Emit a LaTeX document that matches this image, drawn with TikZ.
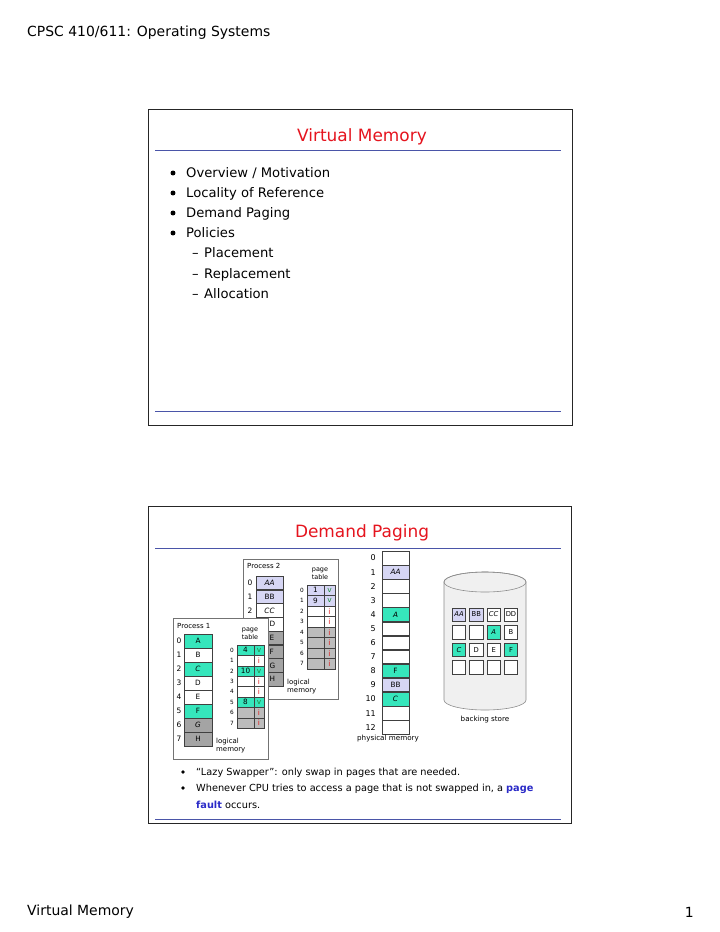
\documentclass[tikz,border=0pt]{standalone}
\usepackage{fontspec}
\setmainfont{DejaVu Sans}
\definecolor{pteal}{HTML}{36E6BC}
\definecolor{lav}{HTML}{D6D6F4}
\definecolor{gA}{HTML}{A4A4A4}
\definecolor{gB}{HTML}{BCBCBC}
\definecolor{titlered}{HTML}{E5141E}
\definecolor{lineblue}{HTML}{4A55A8}
\definecolor{pfblue}{HTML}{2B2BC8}
\definecolor{vgreen}{HTML}{1E8C3C}
\definecolor{ired}{HTML}{E02020}
\definecolor{cylfill}{HTML}{F0F0F0}
\newcommand\fsz[2]{\fontsize{#1}{#2}\selectfont}
\newcommand\pvv{\textcolor{vgreen}{v}}
\newcommand\pii{\textcolor{ired}{i}}
\tikzset{
  frameline/.style={draw=black!85, line width=0.9},
  blueline/.style={draw=lineblue, line width=1},
  procbox/.style={draw=black!55, fill=white, line width=0.6},
  cellbox/.style={draw=black!75, line width=0.5, inner sep=0, font=\fsz{7.3}{8}},
  idx/.style={inner sep=0, font=\fsz{7.5}{8}},
  ptidx/.style={inner sep=0, font=\fsz{5.8}{6}},
  lbl/.style={inner sep=0, font=\fsz{7}{8.5}, align=left},
  bigtitle/.style={inner sep=0, font=\fsz{17}{20}, text=titlered},
  itemtext/.style={inner sep=0, anchor=base west, font=\fsz{13.2}{15}},
  smalltext/.style={inner sep=0, anchor=base west, font=\fsz{9.8}{12}},
  dot/.style={fill=black, circle, inner sep=0, minimum size=5},
}
\begin{document}
\begin{tikzpicture}[x=1bp,y=-1bp]
\useasboundingbox (0,0) rectangle (720,932);
\fill[white] (0,0) rectangle (720,932);

% header / footer
\node[inner sep=0, anchor=west, font=\fsz{14}{16}] (hdr) at (27,33) {CPSC 410/611: Operating Systems};
\node[inner sep=0, anchor=west, font=\fsz{14}{16}] (ftr) at (27,912) {Virtual Memory};
\node[inner sep=0, anchor=east, font=\fsz{14}{16}] (pgno) at (694,912) {1};

% ---------------- slide 1 ----------------
\draw[frameline] (148,109) rectangle (572,425);
\draw[blueline] (155,150) -- (561,150);
\draw[blueline] (155,411) -- (561,411);
\node[bigtitle] (t1) at (362,137) {Virtual Memory};
\foreach \y/\t [count=\k] in {173/{Overview / Motivation},193/{Locality of Reference},213/{Demand Paging},233/{Policies}}{
  \node[dot] (b\k) at (173,\y) {};
  \node[itemtext] (it\k) at (186,\y+4) {\t};
}
\foreach \y/\t [count=\k] in {253/Placement,274/Replacement,294/Allocation}{
  \node[itemtext] (st\k) at (192,\y+4) {\makebox[12bp][l]{–}\t};
}

% ---------------- slide 2 ----------------
\draw[frameline] (148,506) rectangle (571,823);
\draw[blueline] (155,548) -- (561,548);
\draw[blueline] (155,819) -- (561,819);
\node[bigtitle] (t2) at (362,533) {Demand Paging};

% Process 2
\draw[procbox] (243,559) rectangle (338,699);
\node[lbl, anchor=west] (p2lab) at (247,566) {Process 2};
\foreach \i/\t/\c in {0/\itshape AA/lav,1/BB/lav,2/\itshape CC/white}{
  \node[cellbox, fill=\c, minimum width=27, minimum height=13.75] (p2m\i) at (269.5,{582.875+13.75*\i}) {\t};
  \node[idx] (p2mi\i) at (250,{582.875+13.75*\i}) {\i};
}
% rows 3-7: only the part not hidden by Process 1
\foreach \i/\t/\c in {3/D/white,4/E/gA,5/F/gA,6/G/gA,7/H/gA}{
  \node[cellbox, fill=\c, minimum width=15, minimum height=13.75] (p2m\i) at (275.5,{582.875+13.75*\i}) {\makebox[15bp][l]{\hspace{1.5bp}\t}};
}
\node[lbl, align=center, font=\fsz{6.5}{8.3}] (p2ptl) at (320,574) {page\\table};
\foreach \i/\f/\v/\c in {0/1/\pvv/lav,1/9/\pvv/lav,2//\pii/white,3//\pii/white,4//\pii/gB,5//\pii/gB,6//\pii/gB,7//\pii/gB}{
  \node[cellbox, fill=\c, minimum width=17, minimum height=10.5] (p2f\i) at (315.5,{590.25+10.5*\i}) {\f};
  \node[cellbox, fill=\c, minimum width=11, minimum height=10.5, font=\fsz{7.5}{8}] (p2v\i) at (329.5,{590.25+10.5*\i}) {\v};
  \node[ptidx] (p2fi\i) at (302,{590.25+10.5*\i}) {\i};
}
\node[lbl, anchor=north west] (p2lm) at (287,679) {logical\\memory};

% Process 1
\draw[procbox] (173,618) rectangle (268,759);
\node[lbl, anchor=west] (p1lab) at (177,626) {Process 1};
\foreach \i/\t/\c in {0/A/pteal,1/B/white,2/\itshape C/pteal,3/D/white,4/E/white,5/F/pteal,6/\itshape G/gA,7/H/gA}{
  \node[cellbox, fill=\c, minimum width=28, minimum height=14] (p1m\i) at (198,{641+14*\i}) {\t};
  \node[idx] (p1mi\i) at (179,{641+14*\i}) {\i};
}
\node[lbl, align=center, font=\fsz{6.5}{8.3}] (p1ptl) at (250,633.5) {page\\table};
\foreach \i/\f/\v/\c in {0/4/\pvv/pteal,1//\pii/white,2/10/\pvv/pteal,3//\pii/white,4//\pii/white,5/8/\pvv/pteal,6//\pii/gB,7//\pii/gB}{
  \node[cellbox, fill=\c, minimum width=17, minimum height=10.4] (p1f\i) at (245.5,{650.2+10.4*\i}) {\f};
  \node[cellbox, fill=\c, minimum width=10, minimum height=10.4, font=\fsz{7.5}{8}] (p1v\i) at (259,{650.2+10.4*\i}) {\v};
  \node[ptidx] (p1fi\i) at (232,{650.2+10.4*\i}) {\i};
}
\node[lbl, anchor=north west] (p1lm) at (216,738) {logical\\memory};

% physical memory
\foreach \i/\t/\c in {0//white,1/\itshape AA/lav,2//white,3//white,4/\itshape A/pteal,5//white,6//white,7//white,8/F/pteal,9/BB/lav,10/\itshape C/pteal,11//white,12//white}{
  \node[cellbox, fill=\c, minimum width=27, minimum height=13.5] (pm\i) at (395.5,{558.05+14.1*\i}) {\t};
  \node[idx, anchor=east, font=\fsz{8}{9}] (pmi\i) at (376,{558.05+14.1*\i}) {\i};
}
\node[lbl, font=\fsz{7.2}{8}] (pmlab) at (388,739) {physical memory};

% backing store cylinder
\path[fill=cylfill, draw=black!45, line width=0.6]
  (444,582) -- (444,700) arc[start angle=180, end angle=0, x radius=41, y radius=10]
  -- (526,582) arc[start angle=0, end angle=-180, x radius=41, y radius=10] -- cycle;
\draw[draw=black!45, line width=0.6] (485,582) ellipse [x radius=41, y radius=10];
\foreach \r/\row in {0/{\itshape AA/lav,BB/lav,\itshape CC/white,DD/white},1/{/white,/white,\itshape A/pteal,B/white},2/{\itshape C/pteal,D/white,E/white,F/pteal},3/{/white,/white,/white,/white}}{
  \foreach \t/\c [count=\k] in \row {
    \node[cellbox, fill=\c, minimum width=13.5, minimum height=13.5, font=\fsz{6.8}{7}] (bs\r\k) at ({459+17.33*(\k-1)},{614.5+17.6*\r}) {\t};
  }
}
\node[lbl, font=\fsz{7.2}{8}] (bslab) at (485,720) {backing store};

% slide 2 bullets
\node[dot, minimum size=3.8] (c1) at (183,772) {};
\node[smalltext] (ct1) at (196,775) {“Lazy Swapper”: only swap in pages that are needed.};
\node[dot, minimum size=3.8] (c2) at (183,788) {};
\node[smalltext] (ct2) at (196,791) {Whenever CPU tries to access a page that is not swapped in, a \textcolor{pfblue}{\bfseries page}};
\node[smalltext] (ct3) at (196,808) {\textcolor{pfblue}{\bfseries fault} occurs.};
\end{tikzpicture}
\end{document}
